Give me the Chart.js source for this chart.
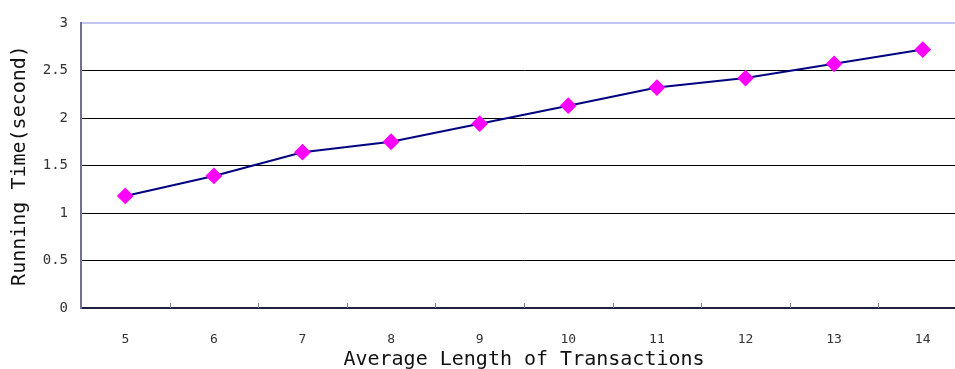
<!DOCTYPE html>
<html lang="en">
<head>
    <meta charset="UTF-8">
    <title>Running Time</title>
    <style>
        html, body { margin: 0; padding: 0; overflow: hidden; background: #fff; }
        canvas { display: block; }
    </style>
</head>
<body>
    <canvas id="myChart" width="976" height="369"></canvas>
    <script src="https://cdn.jsdelivr.net/npm/chart.js"></script>
    <script>
        // data
        const lengths = ['5', '6', '7', '8', '9', '10', '11', '12', '13', '14'];
        const runTimes = [1.18, 1.39, 1.64, 1.75, 1.94, 2.13, 2.32, 2.42, 2.57, 2.72];
        const yTicks = [0, 0.5, 1, 1.5, 2, 2.5, 3];

        const monoFont = "'DejaVu Sans Mono', 'Liberation Mono', monospace";

        // small inward tick marks between categories, like the old office chart
        const innerTicks = {
            id: 'innerTicks',
            afterDraw(chart) {
                const x = chart.scales.x;
                const ctx = chart.ctx;
                const bottom = chart.chartArea.bottom;
                ctx.save();
                ctx.strokeStyle = '#808080';
                ctx.lineWidth = 1;
                for (let i = 0; i < lengths.length - 1; i++) {
                    const px = Math.round((x.getPixelForValue(i) + x.getPixelForValue(i + 1)) / 2) + 0.5;
                    ctx.beginPath();
                    ctx.moveTo(px, bottom);
                    ctx.lineTo(px, bottom - 5);
                    ctx.stroke();
                }
                ctx.restore();
            }
        };

        const cfg = {
            type: 'line',
            data: {
                labels: lengths,
                datasets: [{
                    data: runTimes,
                    borderColor: '#000080',
                    borderWidth: 2,
                    pointStyle: 'rectRot',
                    pointRadius: 7,
                    pointHoverRadius: 7,
                    pointBackgroundColor: '#ff00ff',
                    pointBorderColor: '#ff00ff',
                    tension: 0,
                    clip: false
                }]
            },
            options: {
                responsive: false,
                animation: false,
                events: [],
                layout: { padding: { top: 23, right: 0, left: 0, bottom: 0 } },
                plugins: {
                    legend: { display: false },
                    tooltip: { enabled: false }
                },
                scales: {
                    x: {
                        offset: true,
                        grid: { drawOnChartArea: false, drawTicks: false, color: 'transparent' },
                        border: { display: true, color: '#202040', width: 2 },
                        ticks: {
                            color: '#333',
                            font: { family: monoFont, size: 13 },
                            padding: 24,
                            maxRotation: 0
                        },
                        title: {
                            display: true,
                            text: 'Average Length of Transactions',
                            color: '#111',
                            font: { family: monoFont, size: 20 },
                            padding: { top: 0, bottom: -3 }
                        },
                        afterFit(scale) { scale.height = 61; }
                    },
                    y: {
                        min: 0,
                        max: 3,
                        afterBuildTicks(scale) { scale.ticks = yTicks.map(v => ({ value: v })); },
                        grid: {
                            color: ctx => ctx.tick && ctx.tick.value === 3 ? '#c4c4f0' : '#000000',
                            lineWidth: ctx => ctx.tick && ctx.tick.value === 3 ? 2 : 1,
                            drawTicks: false
                        },
                        border: { display: true, color: '#707090', width: 2 },
                        ticks: {
                            color: '#333',
                            font: { family: monoFont, size: 14 },
                            padding: 13,
                            callback: v => String(v)
                        },
                        title: {
                            display: true,
                            text: 'Running Time(second)',
                            color: '#111',
                            font: { family: monoFont, size: 20 },
                            padding: { top: 8, bottom: 2 }
                        },
                        afterFit(scale) { scale.width = 81; }
                    }
                }
            },
            plugins: [innerTicks]
        };

        new Chart(document.getElementById('myChart').getContext('2d'), cfg);
    </script>
</body>
</html>
